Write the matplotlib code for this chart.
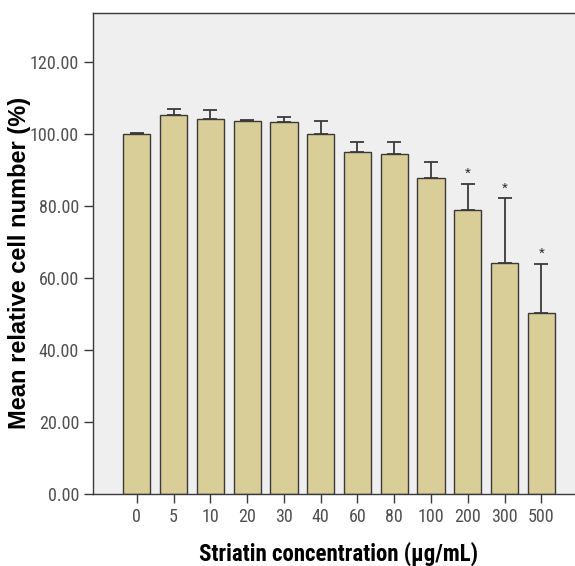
import matplotlib.pyplot as plt
import numpy as np
from matplotlib import font_manager

# data
concentrations = ['0', '5', '10', '20', '30', '40', '60', '80', '100', '200', '300', '500']
means = [100.0, 105.4, 104.2, 103.5, 103.2, 100.0, 94.9, 94.5, 87.8, 78.8, 64.2, 50.3]
upper_err = [0.2, 1.6, 2.4, 0.3, 1.6, 3.6, 2.9, 3.3, 4.4, 7.3, 17.9, 13.7]
significant = [False] * 9 + [True, True, True]

# pick a narrow face if one is installed, else plain Liberation Sans
installed = {f.name for f in font_manager.fontManager.ttflist}
narrow_name = None
for cand in ['Liberation Sans Narrow', 'Arial Narrow', 'Roboto Condensed', 'Open Sans Condensed']:
    if cand in installed:
        narrow_name = cand
        break
regular = ['Liberation Sans', 'DejaVu Sans']
if narrow_name:
    narrow = [narrow_name, 'DejaVu Sans']
    tick_size, xlab_size = 13, 16.5
else:
    narrow = regular
    tick_size, xlab_size = 11, 14

fig = plt.figure(figsize=(5.75, 5.66), dpi=100)
ax = fig.add_axes([0.1617, 0.127, 0.856, 0.85])
ax.set_facecolor('#efefef')

x = np.arange(len(concentrations))
ax.bar(x, means, width=0.74, color='#d9cd98', edgecolor='#3a3a3a', linewidth=1.0, zorder=2)
ax.errorbar(x, means, yerr=[np.zeros(len(means)), upper_err], fmt='none',
            ecolor='#3a3a3a', elinewidth=1.3, capsize=4.7, capthick=1.3, zorder=3)

# asterisks for significant groups
for xi, m, e, s in zip(x, means, upper_err, significant):
    if s:
        ax.text(xi, m + e + 2.8, '*', ha='center', va='center', fontsize=11,
                family=regular, color='#222222')

ax.set_xlim(-1.19, 12.19)
ax.set_ylim(0, 133.6)
ax.set_yticks([0, 20, 40, 60, 80, 100, 120])
ax.set_yticklabels(['%.2f' % v for v in [0, 20, 40, 60, 80, 100, 120]])
ax.set_xticks(x)
ax.set_xticklabels(concentrations)

ax.tick_params(axis='both', colors='#3a3a3a', labelcolor='#505050', labelsize=tick_size,
               length=6.5, width=1.0)
for lab in ax.get_xticklabels() + ax.get_yticklabels():
    lab.set_family(narrow)

for sp in ax.spines.values():
    sp.set_color('#3a3a3a')
    sp.set_linewidth(1.0)

ax.set_ylabel('Mean relative cell number (%)', fontsize=17, fontweight='bold',
              family=regular)
ax.yaxis.set_label_coords(-0.126, 0.48)
ax.set_xlabel('Striatin concentration (µg/mL)', fontsize=xlab_size, fontweight='bold',
              family=narrow)
ax.xaxis.set_label_coords(0.498, -0.098)

fig.savefig('out.png', dpi=100)
